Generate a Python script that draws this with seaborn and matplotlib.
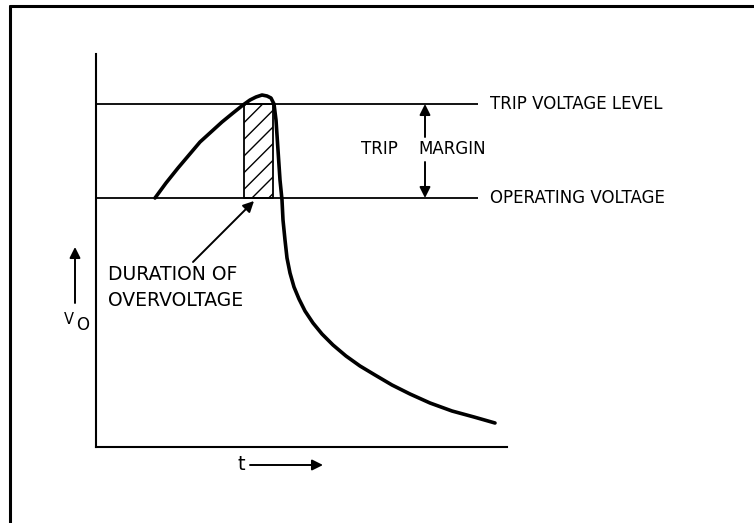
""" Overvoltage trip schematic """

import matplotlib
matplotlib.use('Agg')
import matplotlib.pyplot as plt
import seaborn as sns
import pandas as pd
from matplotlib.lines import Line2D

# curve (time units, voltage units)
time = [59, 70, 82, 93, 104, 115, 126, 137, 147, 154, 160, 166, 171, 175,
        178, 180, 182, 184, 186, 187, 189, 191, 194, 198, 203, 209, 217,
        226, 237, 250, 264, 279, 296, 314, 334, 356, 378, 399]
volts = [249, 264, 279, 292, 305, 315, 325, 334, 342, 347, 350, 352, 351,
         349, 343, 327, 297, 267, 247, 227, 207, 189, 174, 160, 148, 136,
         124, 113, 102, 91, 81, 72, 62, 53, 44, 36, 30, 24]

operating_level = 249
trip_level = 343
level_end = 382
overvoltage_start = 148
overvoltage_end = 177

df = pd.DataFrame({'t': time, 'v': volts})

sns.set_style('white')
plt.rcParams['font.family'] = ['DejaVu Sans']
plt.rcParams['text.color'] = 'black'
plt.rcParams['hatch.linewidth'] = 1.0

fig = plt.figure(figsize=(7.54, 5.23), dpi=100)
ax = fig.add_axes([96 / 754, 76 / 523, 411 / 754, 393 / 523])

# levels
ax.hlines([trip_level, operating_level], 0, level_end, color='black', lw=1.3)

# duration of overvoltage
ax.fill_between([overvoltage_start, overvoltage_end], operating_level, trip_level,
                facecolor='white', edgecolor='black', hatch='//', lw=1.3)

sns.lineplot(data=df, x='t', y='v', ax=ax, color='black', lw=2.6,
             estimator=None, sort=False, solid_capstyle='round',
             solid_joinstyle='round')

ax.set_xlim(0, 411)
ax.set_ylim(0, 393)
ax.set_xticks([])
ax.set_yticks([])
ax.set_xlabel('')
ax.set_ylabel('')
sns.despine(ax=ax)
for side in ['left', 'bottom']:
    ax.spines[side].set_linewidth(1.5)
    ax.spines[side].set_color('black')

arrow = dict(arrowstyle='-|>', color='black', lw=1.4, mutation_scale=16,
             shrinkA=0, shrinkB=0)

# labels on the right
ax.text(394, trip_level, 'TRIP VOLTAGE LEVEL', fontsize=12, va='center',
        ha='left', clip_on=False)
ax.text(394, operating_level, 'OPERATING VOLTAGE', fontsize=12, va='center',
        ha='left', clip_on=False)

# trip margin
ax.text(302, 298, 'TRIP', fontsize=12, va='center', ha='right')
ax.text(322, 298, 'MARGIN', fontsize=12, va='center', ha='left')
ax.annotate('', xy=(329, trip_level), xytext=(329, 310), arrowprops=arrow)
ax.annotate('', xy=(329, operating_level), xytext=(329, 285), arrowprops=arrow)

# duration of overvoltage label
ax.text(12, 172, 'DURATION OF', fontsize=13.5, va='center', ha='left')
ax.text(12, 147, 'OVERVOLTAGE', fontsize=13.5, va='center', ha='left')
ax.annotate('', xy=(158, 246), xytext=(97, 185), arrowprops=arrow)

# axis labels
ax.text(-27, 127, 'V', fontsize=10.5, va='center', ha='center', clip_on=False)
ax.text(-13, 122, 'O', fontsize=12, va='center', ha='center', clip_on=False)
ax.annotate('', xy=(-21, 200), xytext=(-21, 144), arrowprops=arrow,
            annotation_clip=False)
ax.text(145, -18, 't', fontsize=14, va='center', ha='center', clip_on=False)
ax.annotate('', xy=(227, -18), xytext=(154, -18), arrowprops=arrow,
            annotation_clip=False)

# outer frame, cut at right and bottom
fig.add_artist(Line2D([10 / 754, 10 / 754], [0, 1 - 6 / 523],
                      transform=fig.transFigure, color='black', lw=2.2))
fig.add_artist(Line2D([10 / 754, 1], [1 - 6 / 523, 1 - 6 / 523],
                      transform=fig.transFigure, color='black', lw=2.2))

fig.savefig('out.png', dpi=100)
